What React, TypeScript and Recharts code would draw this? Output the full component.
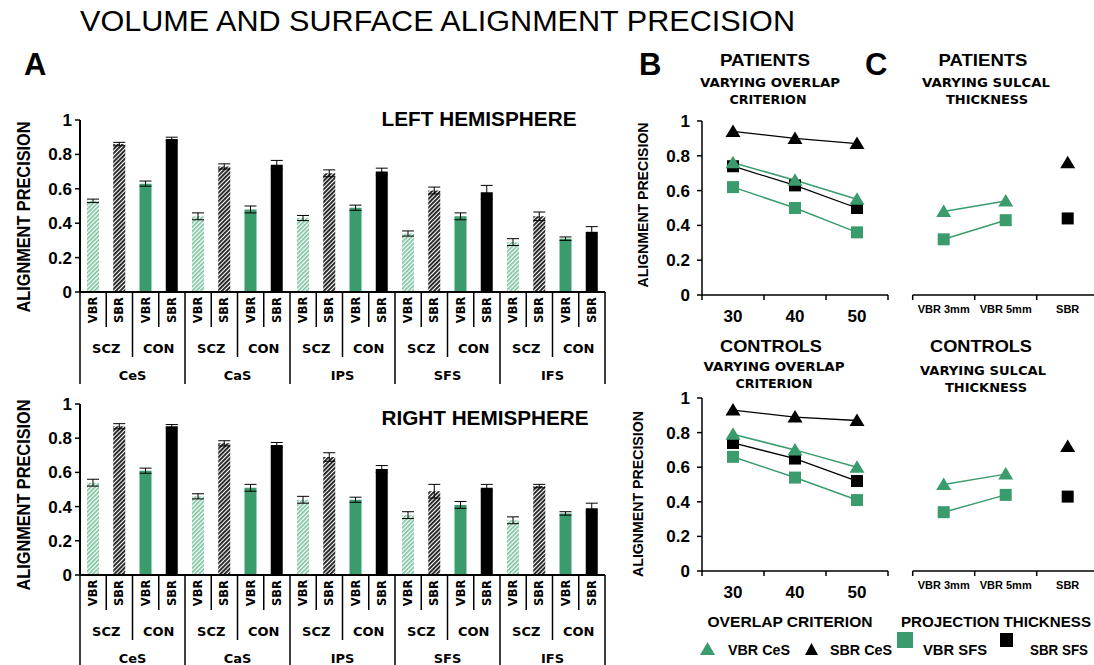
import React from "react";
import { BarChart, Bar, XAxis, YAxis, Cell, ErrorBar, LineChart, Line } from "recharts";

const sulci = ["CeS", "CaS", "IPS", "SFS", "IFS"];
const groups = ["SCZ", "CON"];
const methods = ["VBR", "SBR"];

// order inside each sulcus: SCZ VBR, SCZ SBR, CON VBR, CON SBR
const leftPrecision = [0.53, 0.86, 0.63, 0.89, 0.44, 0.73, 0.48, 0.74, 0.43, 0.69, 0.49, 0.7, 0.34, 0.59, 0.44, 0.58, 0.29, 0.44, 0.31, 0.35];
const leftError = [0.01, 0.01, 0.015, 0.01, 0.02, 0.015, 0.02, 0.025, 0.015, 0.02, 0.015, 0.02, 0.015, 0.02, 0.02, 0.04, 0.02, 0.025, 0.01, 0.03];
const rightPrecision = [0.54, 0.87, 0.61, 0.87, 0.46, 0.77, 0.51, 0.76, 0.44, 0.69, 0.44, 0.62, 0.35, 0.49, 0.41, 0.51, 0.32, 0.52, 0.36, 0.39];
const rightError = [0.02, 0.015, 0.015, 0.01, 0.015, 0.015, 0.02, 0.015, 0.02, 0.025, 0.015, 0.02, 0.02, 0.04, 0.02, 0.02, 0.02, 0.01, 0.01, 0.03];

const overlapCriteria = [30, 40, 50];
const patVbrCes = [0.76, 0.66, 0.55];
const patSbrCes = [0.94, 0.9, 0.87];
const patVbrSfs = [0.62, 0.5, 0.36];
const patSbrSfs = [0.74, 0.63, 0.5];
const conVbrCes = [0.79, 0.7, 0.6];
const conSbrCes = [0.93, 0.89, 0.87];
const conVbrSfs = [0.66, 0.54, 0.41];
const conSbrSfs = [0.74, 0.65, 0.52];

const thicknessLabels = ["VBR 3mm", "VBR 5mm", "SBR"];
const patThickVbrCes = [0.48, 0.54, null];
const patThickSbrCes = [null, null, 0.76];
const patThickVbrSfs = [0.32, 0.43, null];
const patThickSbrSfs = [null, null, 0.44];
const conThickVbrCes = [0.5, 0.56, null];
const conThickSbrCes = [null, null, 0.72];
const conThickVbrSfs = [0.34, 0.44, null];
const conThickSbrSfs = [null, null, 0.43];

const precisionTicks = [0, 0.2, 0.4, 0.6, 0.8, 1];

const GREEN = "#3a9c6c";
const FONT = "'Liberation Sans', Arial, sans-serif";
const VFONT = "'DejaVu Sans', Verdana, sans-serif";
const SLOT = 525 / 20;

const hemiRows = (vals: number[], errs: number[]) =>
  vals.map((v, i) => ({
    key: `${sulci[Math.floor(i / 4)]}-${groups[Math.floor(i / 2) % 2]}-${methods[i % 2]}`,
    value: v,
    err: errs[i],
  }));

const barFill = (i: number) => {
  const scz = Math.floor(i / 2) % 2 === 0;
  const sbr = i % 2 === 1;
  if (scz) return sbr ? "url(#hatchBlack)" : "url(#hatchGreen)";
  return sbr ? "#000" : GREEN;
};

function BarTick(props: any) {
  const { x, y, index } = props;
  const half = SLOT / 2;
  const len = index % 4 === 3 ? 92 : index % 4 === 1 ? 65 : 35;
  const lbl = { fontFamily: VFONT, fontWeight: "bold" as const, fill: "#000" };
  return (
    <g>
      <text
        x={x}
        y={y + 18}
        transform={`rotate(-90 ${x} ${y + 18})`}
        textAnchor="middle"
        dominantBaseline="central"
        fontSize={11.5}
        {...lbl}
      >
        {methods[index % 2]}
      </text>
      <line x1={x + half} x2={x + half} y1={y} y2={y + len} stroke="#000" strokeWidth={1.5} />
      {index === 0 && <line x1={x - half} x2={x - half} y1={y} y2={y + 92} stroke="#000" strokeWidth={1.5} />}
      {index % 2 === 1 && (
        <text x={x - half} y={y + 61} textAnchor="middle" fontSize={13} {...lbl}>
          {groups[Math.floor(index / 2) % 2]}
        </text>
      )}
      {index % 4 === 1 && (
        <text x={x + half} y={y + 88} textAnchor="middle" fontSize={13} {...lbl}>
          {sulci[Math.floor(index / 4)]}
        </text>
      )}
    </g>
  );
}

function HemisphereChart({ rows, top, height, marginTop, axisHeight }: any) {
  return (
    <div style={{ position: "absolute", left: 0, top, width: 620, height }}>
      <BarChart width={620} height={height} data={rows} margin={{ top: marginTop, right: 15, bottom: 0, left: 0 }} barSize={12}>
        <XAxis
          dataKey="key"
          interval={0}
          height={axisHeight}
          tickSize={0}
          tickMargin={0}
          tickLine={false}
          axisLine={{ stroke: "#000", strokeWidth: 2 }}
          tick={<BarTick />}
        />
        <YAxis
          width={80}
          domain={[0, 1]}
          ticks={precisionTicks}
          tickSize={5}
          tickMargin={3}
          axisLine={{ stroke: "#000", strokeWidth: 2 }}
          tickLine={{ stroke: "#000", strokeWidth: 1.5 }}
          tick={{ fill: "#000", fontSize: 17, fontWeight: "bold", fontFamily: FONT }}
        />
        <Bar dataKey="value" isAnimationActive={false}>
          {rows.map((r: any, i: number) => (
            <Cell key={r.key} fill={barFill(i)} />
          ))}
          <ErrorBar dataKey="err" width={6} stroke="#000" strokeWidth={1} direction="y" />
        </Bar>
      </BarChart>
    </div>
  );
}

const triangleDot = (color: string) => (p: any) => {
  const { cx, cy, key } = p;
  if (cx == null || cy == null) return <g key={key} />;
  return <path key={key} d={`M${cx},${cy - 7} L${cx + 7.5},${cy + 5.5} L${cx - 7.5},${cy + 5.5} Z`} fill={color} />;
};

const squareDot = (color: string) => (p: any) => {
  const { cx, cy, key } = p;
  if (cx == null || cy == null) return <g key={key} />;
  return <rect key={key} x={cx - 6} y={cy - 6} width={12} height={12} fill={color} />;
};

function CritTick(props: any) {
  const { x, y, payload } = props;
  const v = payload.value;
  if (overlapCriteria.includes(v)) {
    return (
      <text x={x} y={y + 27} textAnchor="middle" fontSize={17} fontWeight="bold" fontFamily={FONT} fill="#000">
        {v}
      </text>
    );
  }
  return <line x1={x} x2={x} y1={y} y2={y + 5} stroke="#000" strokeWidth={1.5} />;
}

function ThickTick(props: any) {
  const { x, y, payload } = props;
  const v = payload.value;
  if (Number.isInteger(v)) {
    return (
      <text x={x} y={y + 18} textAnchor="middle" fontSize={11} fontWeight="bold" fontFamily={FONT} fill="#000">
        {thicknessLabels[v - 1]}
      </text>
    );
  }
  return <line x1={x} x2={x} y1={y} y2={y + 5} stroke="#000" strokeWidth={1.5} />;
}

function SeriesLines() {
  return [
    <Line key="sbrSfs" dataKey="sbrSfs" stroke="#000" strokeWidth={1.3} dot={squareDot("#000")} activeDot={false} isAnimationActive={false} />,
    <Line key="vbrSfs" dataKey="vbrSfs" stroke={GREEN} strokeWidth={1.5} dot={squareDot(GREEN)} activeDot={false} isAnimationActive={false} />,
    <Line key="sbrCes" dataKey="sbrCes" stroke="#000" strokeWidth={1.3} dot={triangleDot("#000")} activeDot={false} isAnimationActive={false} />,
    <Line key="vbrCes" dataKey="vbrCes" stroke={GREEN} strokeWidth={1.5} dot={triangleDot(GREEN)} activeDot={false} isAnimationActive={false} />,
  ];
}

function OverlapChart({ rows, top, marginTop, height }: any) {
  return (
    <div style={{ position: "absolute", left: 620, top, width: 280, height }}>
      <LineChart width={280} height={height} data={rows} margin={{ top: marginTop, right: 12, bottom: 0, left: 0 }}>
        <XAxis
          type="number"
          dataKey="crit"
          domain={[25, 55]}
          ticks={[25, 30, 35, 40, 45, 50, 55]}
          interval={0}
          height={45}
          tickSize={0}
          tickMargin={0}
          tickLine={false}
          axisLine={{ stroke: "#000", strokeWidth: 1.5 }}
          tick={<CritTick />}
        />
        <YAxis
          width={82}
          domain={[0, 1]}
          ticks={precisionTicks}
          tickSize={5}
          tickMargin={7}
          axisLine={{ stroke: "#000", strokeWidth: 1.5 }}
          tickLine={{ stroke: "#000", strokeWidth: 1.5 }}
          tick={{ fill: "#000", fontSize: 17, fontWeight: "bold", fontFamily: FONT }}
        />
        {SeriesLines()}
      </LineChart>
    </div>
  );
}

function ThicknessChart({ rows, top, marginTop, height }: any) {
  return (
    <div style={{ position: "absolute", left: 900, top, width: 200, height }}>
      <LineChart width={200} height={height} data={rows} margin={{ top: marginTop, right: 1.3, bottom: 0, left: 12.7 }}>
        <XAxis
          type="number"
          dataKey="pos"
          domain={[0.5, 3.5]}
          ticks={[0.5, 1, 1.5, 2, 2.5, 3, 3.5]}
          interval={0}
          height={45}
          tickSize={0}
          tickMargin={0}
          tickLine={false}
          axisLine={{ stroke: "#000", strokeWidth: 1.5 }}
          tick={<ThickTick />}
        />
        <YAxis hide domain={[0, 1]} />
        {SeriesLines()}
      </LineChart>
    </div>
  );
}

const overlapRows = (a: number[], b: number[], c: number[], d: number[]) =>
  overlapCriteria.map((crit, i) => ({ crit, vbrCes: a[i], sbrCes: b[i], vbrSfs: c[i], sbrSfs: d[i] }));

const thickRows = (a: any[], b: any[], c: any[], d: any[]) =>
  thicknessLabels.map((label, i) => ({ pos: i + 1, label, vbrCes: a[i], sbrCes: b[i], vbrSfs: c[i], sbrSfs: d[i] }));

function T({ x, y, size, len, v, bold = true, anchor = "middle", children }: any) {
  return (
    <text
      x={x}
      y={y}
      fontSize={size}
      fontWeight={bold ? "bold" : "normal"}
      fontFamily={v ? VFONT : FONT}
      textAnchor={anchor}
      textLength={len}
      lengthAdjust="spacingAndGlyphs"
      fill="#000"
    >
      {children}
    </text>
  );
}

export default function App() {
  return (
    <div style={{ position: "absolute", left: 0, top: 0, width: 1094, height: 665, overflow: "hidden", background: "#fff" }}>
      <svg width={0} height={0} style={{ position: "absolute" }}>
        <defs>
          <pattern id="hatchGreen" patternUnits="userSpaceOnUse" width={3} height={3} patternTransform="rotate(45)">
            <rect width={3} height={3} fill="#fff" />
            <rect width={1.7} height={3} fill="#7cc4a0" />
          </pattern>
          <pattern id="hatchBlack" patternUnits="userSpaceOnUse" width={3} height={3} patternTransform="rotate(45)">
            <rect width={3} height={3} fill="#fff" />
            <rect width={1.9} height={3} fill="#222" />
          </pattern>
        </defs>
      </svg>

      <HemisphereChart rows={hemiRows(leftPrecision, leftError)} top={100} height={290} marginTop={20} axisHeight={98} />
      <HemisphereChart rows={hemiRows(rightPrecision, rightError)} top={390} height={275} marginTop={14} axisHeight={90} />

      <OverlapChart rows={overlapRows(patVbrCes, patSbrCes, patVbrSfs, patSbrSfs)} top={100} marginTop={21} height={240} />
      <OverlapChart rows={overlapRows(conVbrCes, conSbrCes, conVbrSfs, conSbrSfs)} top={380} marginTop={18} height={236} />
      <ThicknessChart rows={thickRows(patThickVbrCes, patThickSbrCes, patThickVbrSfs, patThickSbrSfs)} top={100} marginTop={21} height={240} />
      <ThicknessChart rows={thickRows(conThickVbrCes, conThickSbrCes, conThickVbrSfs, conThickSbrSfs)} top={380} marginTop={18} height={236} />

      <svg width={1094} height={665} style={{ position: "absolute", left: 0, top: 0, pointerEvents: "none" }}>
        <T x={80} y={31} size={30} len={715} bold={false} anchor="start">VOLUME AND SURFACE ALIGNMENT PRECISION</T>
        <T x={24} y={75} size={31} anchor="start">A</T>
        <T x={639} y={75} size={31} anchor="start">B</T>
        <T x={865} y={75} size={31} anchor="start">C</T>

        <g transform="rotate(-90 30 217)">
          <T x={30} y={217} size={19} len={191}>ALIGNMENT PRECISION</T>
        </g>
        <g transform="rotate(-90 30 495)">
          <T x={30} y={495} size={19} len={191}>ALIGNMENT PRECISION</T>
        </g>
        <g transform="rotate(-90 648 205)">
          <T x={648} y={205} size={14} len={165}>ALIGNMENT PRECISION</T>
        </g>
        <g transform="rotate(-90 643 494)">
          <T x={643} y={494} size={14} len={166}>ALIGNMENT PRECISION</T>
        </g>

        <T x={479} y={126} size={20} len={195}>LEFT HEMISPHERE</T>
        <T x={485} y={425} size={20} len={207}>RIGHT HEMISPHERE</T>

        <T x={765} y={66} size={17} len={90}>PATIENTS</T>
        <T x={770} y={87} size={12} len={140} v>VARYING OVERLAP</T>
        <T x={768} y={104} size={12} len={77} v>CRITERION</T>
        <T x={983} y={66} size={17} len={89}>PATIENTS</T>
        <T x={986} y={87} size={12} len={128} v>VARYING SULCAL</T>
        <T x={987} y={104} size={12} len={82} v>THICKNESS</T>

        <T x={771} y={352} size={17} len={102}>CONTROLS</T>
        <T x={774} y={371} size={12} len={141} v>VARYING OVERLAP</T>
        <T x={774} y={388} size={12} len={77} v>CRITERION</T>
        <T x={981} y={352} size={17} len={102}>CONTROLS</T>
        <T x={983} y={375} size={12} len={126} v>VARYING SULCAL</T>
        <T x={986} y={392} size={12} len={82} v>THICKNESS</T>

        <T x={790} y={627} size={15} len={165}>OVERLAP CRITERION</T>
        <T x={901} y={627} size={15} len={190} anchor="start">PROJECTION THICKNESS</T>

        <path d="M700,655 L715,655 L707.5,642 Z" fill={GREEN} />
        <T x={728} y={655} size={15} len={62} anchor="start">VBR CeS</T>
        <path d="M805,655 L818,655 L811.5,643 Z" fill="#000" />
        <T x={830} y={655} size={15} len={62} anchor="start">SBR CeS</T>
        <rect x={897} y={632} width={16} height={16} fill={GREEN} />
        <T x={923} y={655} size={15} len={64} anchor="start">VBR SFS</T>
        <rect x={1000} y={633} width={13} height={14} fill="#000" />
        <T x={1030} y={655} size={15} len={58} anchor="start">SBR SFS</T>
      </svg>
    </div>
  );
}
